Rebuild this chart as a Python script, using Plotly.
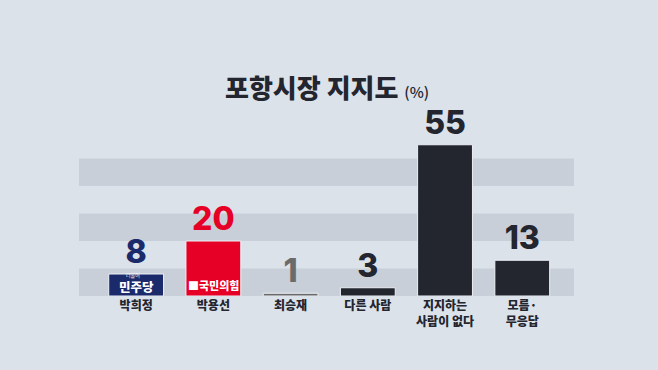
import plotly.graph_objects as go

CATEGORIES = ["박희정", "박용선", "최승재", "다른 사람", "지지하는<br>사람이 없다", "모름·<br>무응답"]
VALUES = [8, 20, 1, 3, 55, 13]
BAR_COLORS = ["#1b2a6b", "#e60026", "#6b6b6b", "#23252f", "#23252f", "#23252f"]
LABEL_COLORS = ["#1b2a6b", "#e60026", "#6b6b6b", "#23252f", "#23252f", "#23252f"]
BANDS = [(0, 10), (20, 30), (40, 50)]
TITLE = "포항시장 지지도"
UNIT = "(%)"

BG = "#dce2ea"
BAND = "#c8cfd8"
FONT = "Noto Sans CJK KR"

fig = go.Figure()
fig.add_trace(go.Bar(
    x=CATEGORIES, y=VALUES,
    marker=dict(color=BAR_COLORS, line=dict(color="#eef1f6", width=1)),
    width=0.71,
    text=[str(v) for v in VALUES],
    textposition="outside",
    constraintext="none",
    cliponaxis=False,
    textfont=dict(family="Inter, " + FONT, size=32, color=LABEL_COLORS, weight=800),
    hoverinfo="skip",
))

for lo, hi in BANDS:
    fig.add_shape(type="rect", xref="paper", yref="y", x0=0, x1=1, y0=lo, y1=hi,
                  fillcolor=BAND, line_width=0, layer="below")

# party logos inside the first two bars
fig.add_annotation(x=CATEGORIES[0], y=VALUES[0] * 0.43, text="민주당", showarrow=False,
                   font=dict(family=FONT, size=12.5, color="white", weight=900), yanchor="middle")
fig.add_annotation(x=CATEGORIES[0], y=VALUES[0] * 0.97, text="더불어", showarrow=False,
                   xshift=-3, font=dict(family=FONT, size=5, color="white"), yanchor="middle")
fig.add_annotation(x=CATEGORIES[1], y=VALUES[1] * 0.2, text="■국민의힘", showarrow=False,
                   font=dict(family=FONT, size=11, color="white", weight=900), yanchor="middle")

fig.add_annotation(xref="paper", yref="paper", x=0.5, y=1, yshift=45, showarrow=False,
                   xanchor="center", yanchor="middle",
                   text=f"{TITLE} <span style='font-size:15px;font-weight:500'>{UNIT}</span>",
                   font=dict(family=FONT, size=26, color="#23252f", weight=900))

fig.update_layout(
    width=658, height=370,
    paper_bgcolor=BG, plot_bgcolor=BG,
    margin=dict(l=79, r=84, t=131, b=74),
    showlegend=False,
    bargap=0.29,
    xaxis=dict(range=[-0.74, 5.67], showgrid=False, zeroline=False, showline=False,
               ticks="", tickfont=dict(family=FONT, size=12, color="#23252f", weight=900),
               ticklabelstandoff=1, fixedrange=True),
    yaxis=dict(range=[0, 60], showgrid=False, zeroline=False, showticklabels=False,
               fixedrange=True),
)

fig.write_html("out.html", config={"displayModeBar": False},
               post_script="document.body.style.margin='0';")
